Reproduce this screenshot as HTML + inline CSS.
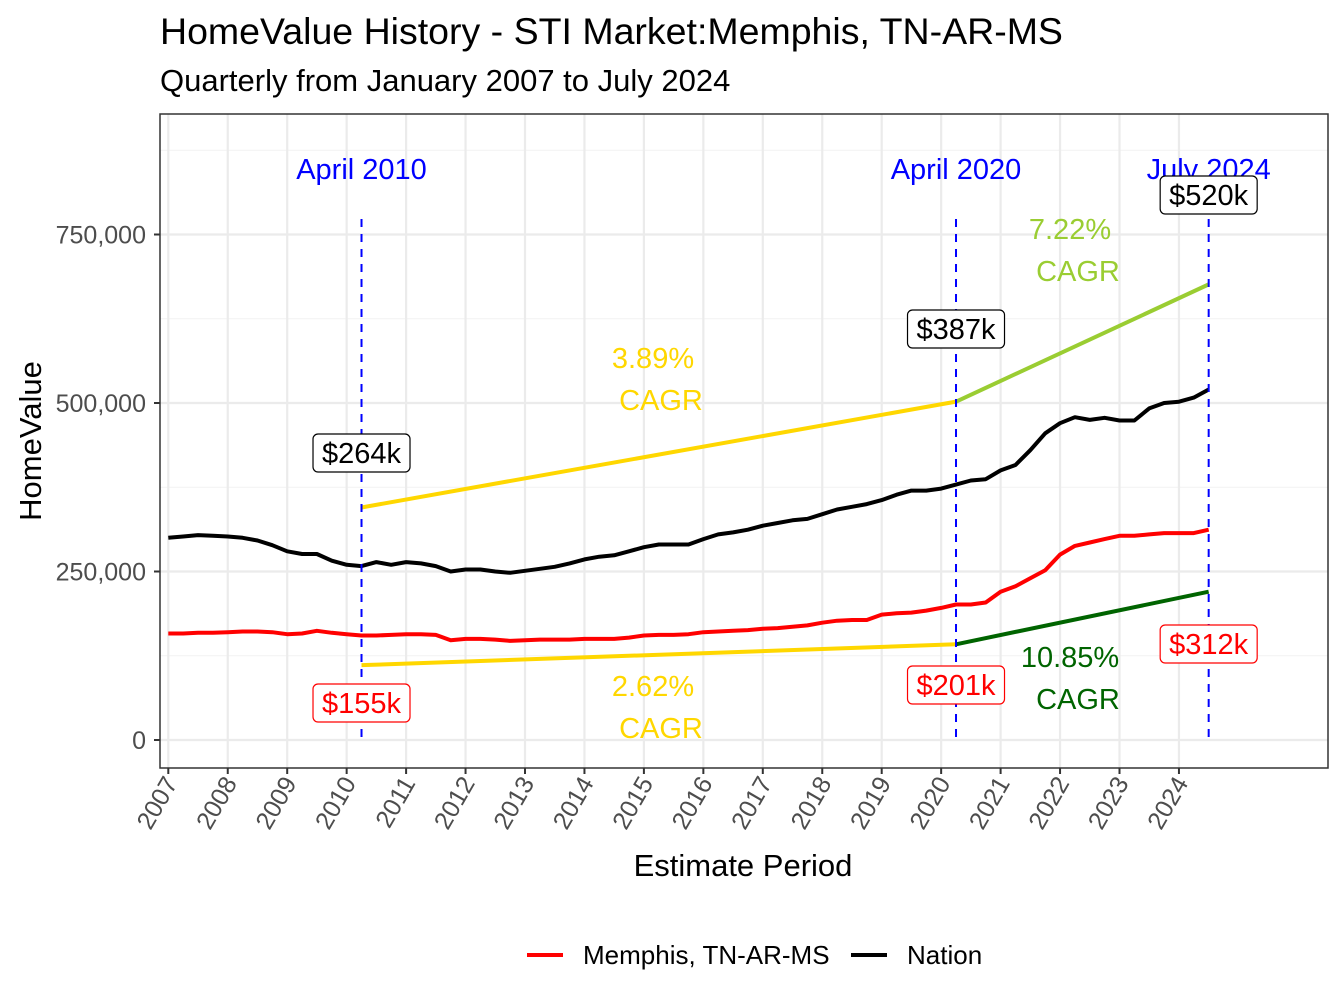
<!DOCTYPE html>
<html><head><meta charset="utf-8"><style>
body{margin:0;background:#fff;}
svg{display:block;font-family:"Liberation Sans",Arial,sans-serif;}
</style></head><body>
<svg id="chart" width="1344" height="1008" viewBox="0 0 1344 1008">
<text x="160" y="44" font-size="37.5" fill="#000">HomeValue History - STI Market:Memphis, TN-AR-MS</text>
<text x="160" y="91" font-size="31" fill="#000">Quarterly from January 2007 to July 2024</text>
<rect x="160" y="114" width="1168" height="654" fill="#fff"/>
<g id="grid"></g>
<g id="marks"></g>
<rect x="160" y="114" width="1168" height="654" fill="none" stroke="#333" stroke-width="1.5"/>
<g id="axes"></g>
<text x="743" y="876" font-size="31" text-anchor="middle" fill="#000">Estimate Period</text>
<text transform="translate(41,441) rotate(-90)" font-size="31" text-anchor="middle" fill="#000">HomeValue</text>
<g>
<line x1="527" y1="955" x2="563" y2="955" stroke="#ff0000" stroke-width="4"/>
<text x="583" y="964" font-size="26" fill="#000">Memphis, TN-AR-MS</text>
<line x1="851" y1="955" x2="887" y2="955" stroke="#000" stroke-width="4"/>
<text x="907" y="964" font-size="26" fill="#000">Nation</text>
</g>
</svg>
<script>
const startYear = 2007;
const memphisValues = [158,158,159,159, 160,161,161,160, 157,158,162,159, 157,155,155,156, 157,157,156,148, 150,150,149,147, 148,149,149,149, 150,150,150,152, 155,156,156,157, 160,161,162,163, 165,166,168,170, 174,177,178,178, 186,188,189,192, 196,201,201,204, 220,228,240,252, 275,288,293,298, 303,303,305,307, 307,307,312];
const nationValues = [300,302,304,303, 302,300,296,289, 280,276,276,266, 260,258,264,260, 264,262,258,250, 253,253,250,248, 251,254,257,262, 268,272,274,280, 286,290,290,290, 298,305,308,312, 318,322,326,328, 335,342,346,350, 356,364,370,370, 373,379,385,387, 400,408,430,455, 470,479,475,478, 474,474,492,500, 502,508,520];
const yTicks = [0,250000,500000,750000];
const yTickLabels = ["0","250,000","500,000","750,000"];
const xTickYears = [2007,2008,2009,2010,2011,2012,2013,2014,2015,2016,2017,2018,2019,2020,2021,2022,2023,2024];
const markerDates = [2010.25,2020.25,2024.5];
const markerLabels = ["April 2010","April 2020","July 2024"];
const nationTrendDates = [2010.25,2020.25,2024.5];
const nationTrendValues = [345,502,676];
const memphisTrendDates = [2010.25,2020.25,2024.5];
const memphisTrendValues = [111,142,220];
const nationPointLabels = ["$264k","$387k","$520k"];
const memphisPointLabels = ["$155k","$201k","$312k"];
const nationCagr = ["3.89%","7.22%"];
const memphisCagr = ["2.62%","10.85%"];

const NS="http://www.w3.org/2000/svg";
function X(t){return 168.3+(t-2007)*59.45;}
function Y(v){return 740-v*0.000674;}
function Yk(k){return Y(k*1000);}
function el(tag,attrs,parent,text){const e=document.createElementNS(NS,tag);for(const k in attrs)e.setAttribute(k,attrs[k]);if(text!==undefined)e.textContent=text;parent.appendChild(e);return e;}
const grid=document.getElementById('grid'),marks=document.getElementById('marks'),axes=document.getElementById('axes');
for(let i=0;i<yTicks.length;i++){
  const ym=Y(yTicks[i]+125000);
  if(ym>114){const g=el('line',{x1:160,x2:1328,y1:ym,y2:ym,stroke:'#f2f2f2','stroke-width':1},grid);
  
  }
}
for(let i=0;i<yTicks.length;i++){
  const y=Y(yTicks[i]);
  const g=el('line',{x1:160,x2:1328,y1:y,y2:y,stroke:'#ebebeb','stroke-width':2.2},grid);
  
  
  const t=el('line',{x1:154,x2:160,y1:y,y2:y,stroke:'#333','stroke-width':2},axes);
  
  
  const l=el('text',{x:146,y:y+9,'font-size':25,'text-anchor':'end',fill:'#4d4d4d'},axes,yTickLabels[i]);
  
  
}
for(let i=0;i<xTickYears.length;i++){
  const x=X(xTickYears[i]);
  const g=el('line',{x1:x,x2:x,y1:114,y2:768,stroke:'#ebebeb','stroke-width':2.2},grid);
  
  
  const t=el('line',{x1:x,x2:x,y1:768,y2:774,stroke:'#333','stroke-width':2},axes);
  
  
  const l=el('text',{transform:`translate(${x+10},${783}) rotate(-60)`,'font-size':25,'text-anchor':'end',fill:'#4d4d4d'},axes,String(xTickYears[i]));
  
  
}
function series(vals,color,name){
  const pts=vals.map((v,i)=>X(startYear+i*0.25).toFixed(1)+','+Yk(v).toFixed(1)).join(' ');
  const p=el('polyline',{points:pts,fill:'none',stroke:color,'stroke-width':4,'stroke-linejoin':'round'},marks);
  
  
}
function seg(d,v,i,color,name){
  const p=el('line',{x1:X(d[i]),y1:Yk(v[i]),x2:X(d[i+1]),y2:Yk(v[i+1]),stroke:color,'stroke-width':4},marks);
  
  
}
seg(nationTrendDates,nationTrendValues,0,'#ffd700','nation-cagr-line-2010-2020');
seg(nationTrendDates,nationTrendValues,1,'#9acd32','nation-cagr-line-2020-2024');
seg(memphisTrendDates,memphisTrendValues,0,'#ffd700','memphis-cagr-line-2010-2020');
seg(memphisTrendDates,memphisTrendValues,1,'#006400','memphis-cagr-line-2020-2024');
series(memphisValues,'#ff0000','memphis-line');
series(nationValues,'#000000','nation-line');
for(let i=0;i<markerDates.length;i++){
  const x=X(markerDates[i]);
  const l=el('line',{x1:x,x2:x,y1:219,y2:740,stroke:'#0000ff','stroke-width':2,'stroke-dasharray':'8,7'},marks);
  
  
  const t=el('text',{x:x,y:179,'font-size':29,'text-anchor':'middle',fill:'#0000ff'},marks,markerLabels[i]);
  
  
}
function label(x,cy,txt,color,name){
  const w=txt.length*17+12,h=38;
  const r=el('rect',{x:x-w/2,y:cy-h/2,width:w,height:h,rx:5,fill:'#fff',stroke:color,'stroke-width':1.2},marks);
  
  
  const t=el('text',{x:x,y:cy+10,'font-size':29,'text-anchor':'middle',fill:color},marks,txt);
  
  
}
const nationLabelY=[453,329,195],memphisLabelY=[703,685,644];
for(let i=0;i<3;i++){
  label(X(markerDates[i]),nationLabelY[i],nationPointLabels[i],'#000','nation-value-label');
  label(X(markerDates[i]),memphisLabelY[i],memphisPointLabels[i],'#ff0000','memphis-value-label');
}
function cagr(x,y,pct,color,name){
  const a=el('text',{x:x,y:y,'font-size':29,'text-anchor':'middle',fill:color},marks,pct);
  
  
  const b=el('text',{x:x+8,y:y+42,'font-size':29,'text-anchor':'middle',fill:color},marks,'CAGR');
  
  
}
cagr(653,368,nationCagr[0],'#ffd700','nation-cagr-2010-2020');
cagr(1070,239,nationCagr[1],'#9acd32','nation-cagr-2020-2024');
cagr(653,696,memphisCagr[0],'#ffd700','memphis-cagr-2010-2020');
cagr(1070,667,memphisCagr[1],'#006400','memphis-cagr-2020-2024');
</script>
</body></html>
